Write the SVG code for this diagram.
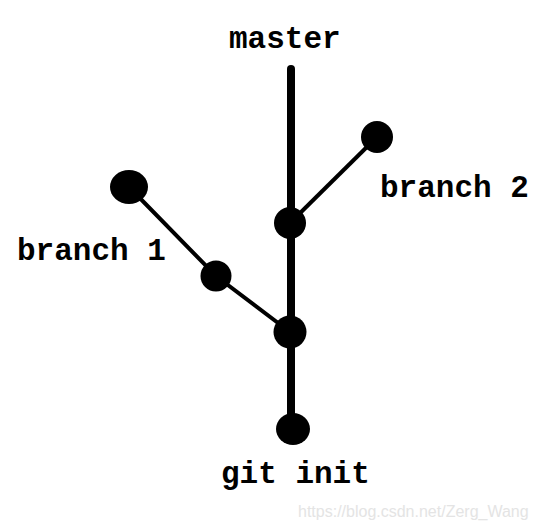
<svg xmlns="http://www.w3.org/2000/svg" width="535" height="530" viewBox="0 0 535 530">
<style>
.lbl{font-family:"Liberation Mono","Courier New",monospace;font-weight:bold;font-size:31px;fill:#000}
.trunk{stroke:#000;stroke-width:8;stroke-linecap:round;fill:none}
.br{stroke:#000;stroke-width:4;fill:none}
.dot{fill:#000}
.wm{font-family:"Liberation Sans",Arial,sans-serif;font-size:16px;fill:#e4e4e4}
</style>
<rect width="535" height="530" fill="#fff"/>
<g id="connectors">
<line class="trunk" x1="291" y1="69" x2="291" y2="428"/>
<polyline class="br" points="129,187 216,276 290,332"/>
<line class="br" x1="290" y1="223" x2="377" y2="137"/>
</g>
<g id="n-init"><ellipse class="dot" cx="293" cy="429" rx="17" ry="16"/><text class="lbl" x="221" y="483">git init</text></g>
<g id="n-m2"><circle class="dot" cx="290" cy="332" r="16.5"/></g>
<g id="n-m1"><circle class="dot" cx="290" cy="223" r="16"/></g>
<g id="n-b1a"><circle class="dot" cx="216" cy="276" r="15.5"/></g>
<g id="n-b1b"><ellipse class="dot" cx="129" cy="187" rx="19" ry="17"/><text class="lbl" x="17" y="260">branch 1</text></g>
<g id="n-b2"><circle class="dot" cx="377" cy="137" r="16"/><text class="lbl" x="380" y="197">branch 2</text></g>
<g id="n-master"><text class="lbl" x="229" y="48">master</text></g>
<text class="wm" x="298" y="517">https://blog.csdn.net/Zerg_Wang</text>
</svg>
